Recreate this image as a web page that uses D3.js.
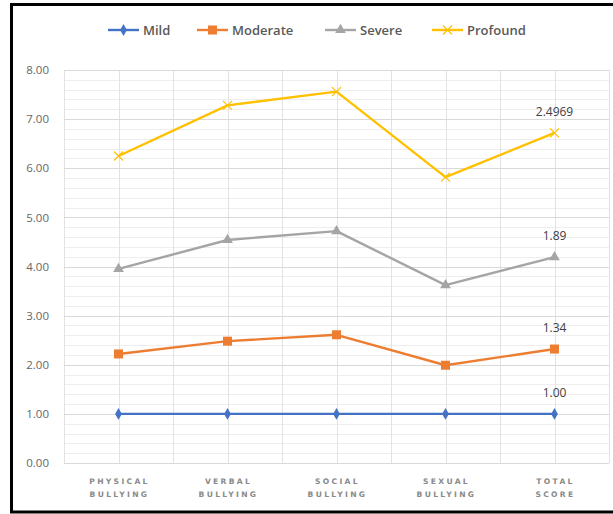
<!DOCTYPE html>
<html>
<head>
<meta charset="utf-8">
<script src="https://cdn.jsdelivr.net/npm/d3@7"></script>
<style>
  html, body { margin: 0; padding: 0; background: #fff; }
  svg { display: block; }
</style>
</head>
<body>
<svg id="chart" width="613" height="514"></svg>
<script>
const categories = [["PHYSICAL", "BULLYING"], ["VERBAL", "BULLYING"], ["SOCIAL", "BULLYING"], ["SEXUAL", "BULLYING"], ["TOTAL", "SCORE"]];
const seriesNames = ["Mild", "Moderate", "Severe", "Profound"];
const mildValues = [1.00, 1.00, 1.00, 1.00, 1.00];
const moderateValues = [2.22, 2.48, 2.61, 1.99, 2.32];
const severeValues = [3.95, 4.54, 4.72, 3.62, 4.19];
const profoundValues = [6.25, 7.28, 7.56, 5.82, 6.72];
const endLabels = ["1.00", "1.34", "1.89", "2.4969"];
const yTicks = [0, 1, 2, 3, 4, 5, 6, 7, 8];

const colors = ["#4472C4", "#ED7D31", "#A5A5A5", "#FFC000"];
const markers = ["diamond", "square", "triangle", "x"];
const allValues = [mildValues, moderateValues, severeValues, profoundValues];

const svg = d3.select("#chart");
const plot = { left: 64, right: 609, top: 70, bottom: 463 };

const x = d3.scalePoint().domain(d3.range(categories.length)).range([plot.left, plot.right]).padding(0.5);
const y = d3.scaleLinear().domain([0, 8]).range([plot.bottom, plot.top]);

// outer frame
svg.append("rect").attr("x", 11.5).attr("y", 4.5).attr("width", 640).attr("height", 507.5)
  .attr("fill", "#fff").attr("stroke", "#000").attr("stroke-width", 3);

// minor horizontal gridlines
const minor = d3.range(0, 8.0001, 0.2).filter(v => Math.abs(v - Math.round(v)) > 1e-6);
svg.append("g").selectAll("line").data(minor).join("line")
  .attr("x1", plot.left).attr("x2", plot.right)
  .attr("y1", d => Math.round(y(d)) + 0.5).attr("y2", d => Math.round(y(d)) + 0.5)
  .attr("stroke", "#eeeeee").attr("stroke-width", 1);

// vertical gridlines (category centers and boundaries)
const step = x.step();
const vlines = [];
categories.forEach((c, i) => { vlines.push(x(i) - step / 2); vlines.push(x(i)); });
vlines.push(x(categories.length - 1) + step / 2);
svg.append("g").selectAll("line").data(vlines).join("line")
  .attr("x1", d => Math.round(d) + 0.5).attr("x2", d => Math.round(d) + 0.5)
  .attr("y1", plot.top).attr("y2", plot.bottom)
  .attr("stroke", "#e2e2e2").attr("stroke-width", 1);

// major horizontal gridlines
svg.append("g").selectAll("line").data(yTicks).join("line")
  .attr("x1", plot.left).attr("x2", plot.right)
  .attr("y1", d => Math.round(y(d)) + 0.5).attr("y2", d => Math.round(y(d)) + 0.5)
  .attr("stroke", "#d9d9d9").attr("stroke-width", 1);

// y axis labels
const yAxis = d3.axisLeft(y).tickValues(yTicks).tickFormat(d3.format(".2f")).tickSize(0).tickPadding(15);
const yg = svg.append("g").attr("transform", `translate(${plot.left},0)`).call(yAxis);
yg.select(".domain").remove();
yg.selectAll("text").attr("font-family", "Open Sans, Liberation Sans, sans-serif")
  .attr("font-size", 11.5).attr("fill", "#666666");

// x axis labels
const xg = svg.append("g");
categories.forEach((lines, i) => {
  lines.forEach((t, j) => {
    xg.append("text").attr("x", x(i) + 1).attr("y", 483.5 + j * 13.5)
      .attr("text-anchor", "middle")
      .attr("font-family", "DejaVu Sans, sans-serif")
      .attr("font-size", 7.6).attr("font-weight", "bold")
      .attr("letter-spacing", "2.3px")
      .attr("fill", "#8a8a8a").text(t);
  });
});

function drawMarker(g, type, cx, cy, color) {
  if (type === "diamond") {
    g.append("path").attr("d", d3.symbol().type(d3.symbolDiamond).size(40)())
      .attr("transform", `translate(${cx},${cy})`).attr("fill", color);
  } else if (type === "square") {
    g.append("rect").attr("x", cx - 4.5).attr("y", cy - 4.5).attr("width", 9).attr("height", 9).attr("fill", color);
  } else if (type === "triangle") {
    g.append("path").attr("d", d3.symbol().type(d3.symbolTriangle).size(50)())
      .attr("transform", `translate(${cx},${cy})`).attr("fill", color);
  } else {
    g.append("path").attr("d", `M${cx - 4.5},${cy - 4.5}L${cx + 4.5},${cy + 4.5}M${cx - 4.5},${cy + 4.5}L${cx + 4.5},${cy - 4.5}`)
      .attr("stroke", color).attr("stroke-width", 1.2).attr("fill", "none");
  }
}

// series lines
const line = d3.line().x((d, i) => x(i)).y(d => y(d));
allValues.forEach((vals, s) => {
  const g = svg.append("g");
  g.append("path").datum(vals).attr("d", line).attr("fill", "none")
    .attr("stroke", colors[s]).attr("stroke-width", 2.4).attr("stroke-linejoin", "round");
  vals.forEach((v, i) => drawMarker(g, markers[s], x(i), y(v), colors[s]));
  const last = vals.length - 1;
  svg.append("text").attr("x", x(last)).attr("y", y(vals[last]) - 17)
    .attr("text-anchor", "middle")
    .attr("font-family", "Open Sans, Liberation Sans, sans-serif")
    .attr("font-size", 12).attr("fill", "#404040").text(endLabels[s]);
});

// legend
const legendX = [108, 197, 325, 432];
const lg = svg.append("g");
seriesNames.forEach((name, s) => {
  const lx = legendX[s], ly = 30;
  lg.append("line").attr("x1", lx).attr("x2", lx + 31).attr("y1", ly).attr("y2", ly)
    .attr("stroke", colors[s]).attr("stroke-width", 2.4);
  drawMarker(lg, markers[s], lx + 15.5, ly, colors[s]);
  lg.append("text").attr("x", lx + 35).attr("y", ly + 4.5)
    .attr("font-family", "Open Sans, Liberation Sans, sans-serif")
    .attr("font-size", 13).attr("font-weight", "600").attr("fill", "#595959").text(name);
});
</script>
</body>
</html>
